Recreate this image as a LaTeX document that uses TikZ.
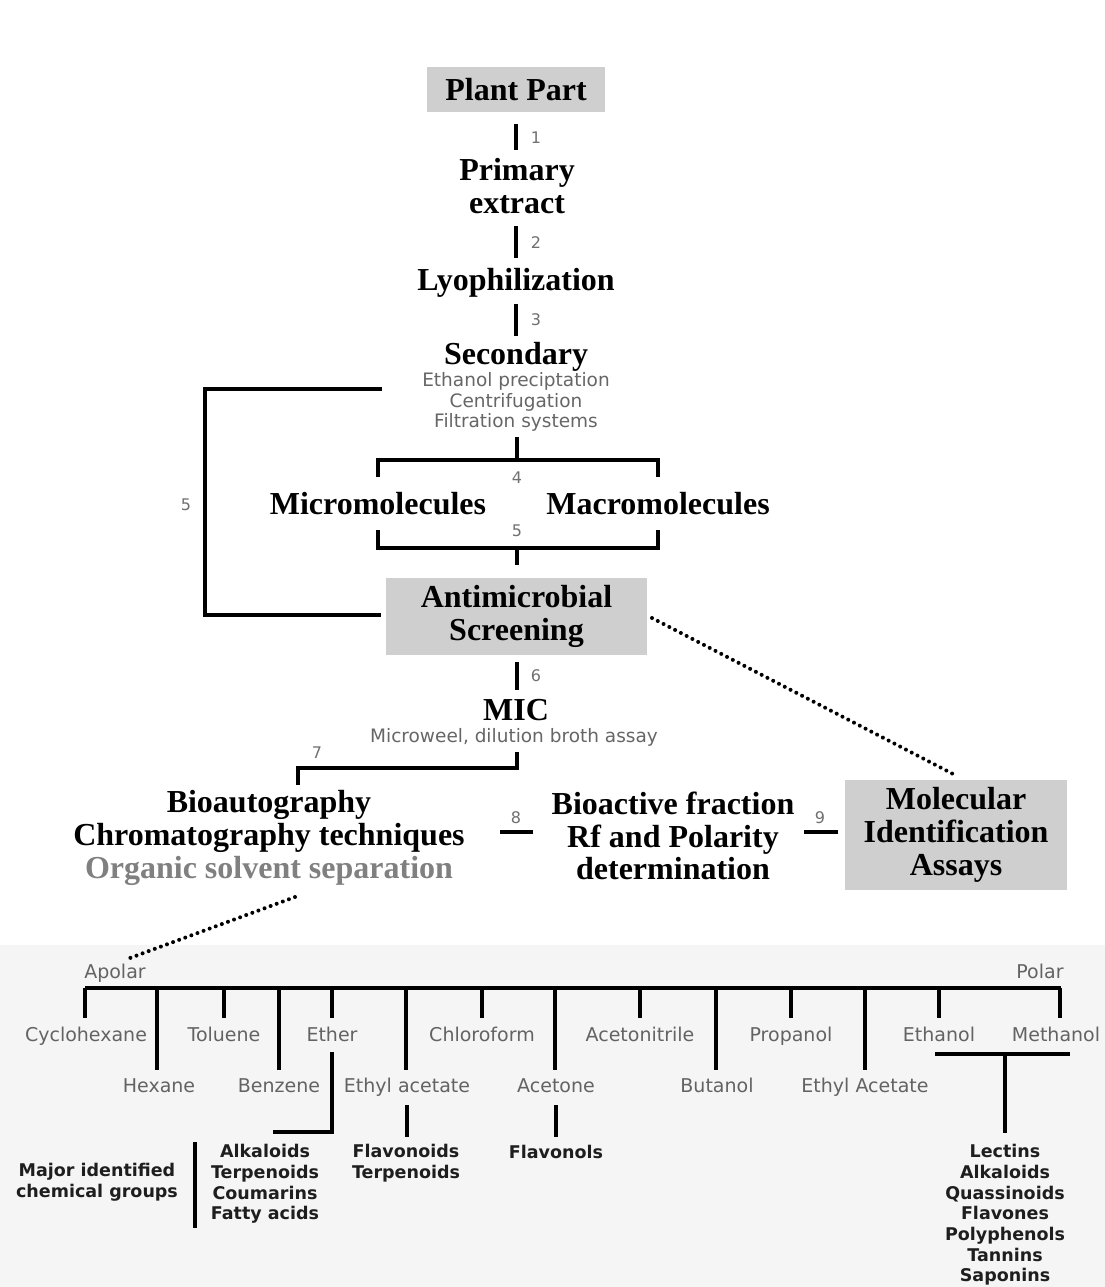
\documentclass[tikz,border=0pt]{standalone}
\usepackage{fontspec}
\setmainfont{Liberation Serif}
\newfontfamily\sansf{DejaVu Sans}
\definecolor{boxgray}{HTML}{CFCFCF}
\definecolor{subgray}{HTML}{666666}
\definecolor{numgray}{HTML}{707070}
\definecolor{orggray}{HTML}{808080}
\definecolor{solvgray}{HTML}{636363}
\definecolor{grpcol}{HTML}{1E1E1E}
\begin{document}
\begin{tikzpicture}[x=1pt,y=-1pt,
  big/.style={font=\fontsize{32}{32.5}\selectfont\bfseries, align=center, inner sep=0pt},
  graybox/.style={big, fill=boxgray},
  sub/.style={font=\sansf\fontsize{18.5}{20.5}\selectfont, text=subgray, align=center, inner sep=0pt},
  num/.style={font=\sansf\fontsize{16}{16}\selectfont, text=numgray, inner sep=0pt},
  solv/.style={font=\sansf\fontsize{19}{19}\selectfont, text=solvgray, inner sep=0pt, text height=14pt, text depth=4pt},
  grp/.style={font=\sansf\bfseries\fontsize{17.5}{20.7}\selectfont, text=grpcol, align=center, inner sep=0pt},
  ln/.style={line width=4pt},
  dotline/.style={line width=4pt, dash pattern=on 0pt off 6.5pt, line cap=round}]
\useasboundingbox (0,0) rectangle (1105,1287);
\fill[white] (0,0) rectangle (1105,1287);
\fill[black!4] (0,945) rectangle (1105,1287);

% ---- main column nodes
\node[graybox, minimum width=178pt, minimum height=45pt] (plant) at (516,90) {Plant Part};
\node[big] (primary) at (517,186) {Primary\\extract};
\node[big] (lyo) at (516,283) {Lyophilization};
\node[big] (sec) at (516,357) {Secondary};
\node[sub] (secsub) at (516,402) {Ethanol preciptation\\Centrifugation\\Filtration systems};
\node[big] (micro) at (378,504) {Micromolecules};
\node[big] (macro) at (658,504) {Macromolecules};
\node[graybox, minimum width=261pt, minimum height=77pt] (anti) at (516.5,616.5) {Antimicrobial\\Screening};
\node[big] (mic) at (516,710) {MIC};
\node[sub] (micsub) at (514,737) {Microweel, dilution broth assay};
\node[big, font=\fontsize{32}{33}\selectfont\bfseries] (bio) at (269,838) {Bioautography\\Chromatography techniques\\\textcolor{orggray}{Organic solvent separation}};
\node[big, font=\fontsize{32}{32.5}\selectfont\bfseries] (bfrac) at (673,836) {Bioactive fraction\\Rf and Polarity\\determination};
\node[graybox, font=\fontsize{32}{33}\selectfont\bfseries, minimum width=222pt, minimum height=110pt] (mol) at (956,835) {Molecular\\Identification\\Assays};

% ---- connector end points
\coordinate (a1) at (516,124); \coordinate (b1) at (516,150);
\coordinate (a2) at (516,226); \coordinate (b2) at (516,258);
\coordinate (a3) at (516,304); \coordinate (b3) at (516,336);
\coordinate (a4) at (517,437); \coordinate (b4) at (517,460);
\coordinate (m4l) at (378,460); \coordinate (m4r) at (658,460);
\coordinate (t4l) at (378,477); \coordinate (t4r) at (658,477);
\coordinate (t5l) at (378,530); \coordinate (t5r) at (658,530);
\coordinate (m5l) at (378,548); \coordinate (m5r) at (658,548);
\coordinate (a5) at (517,548); \coordinate (b5) at (517,565);
\coordinate (l5a) at (382,389); \coordinate (l5b) at (205,389);
\coordinate (l5c) at (205,615); \coordinate (l5d) at (381,615);
\coordinate (a6) at (517,662); \coordinate (b6) at (517,690);
\coordinate (a7) at (517,752); \coordinate (b7) at (517,768);
\coordinate (c7) at (298,768); \coordinate (d7) at (298,785);
\coordinate (a8) at (500,832); \coordinate (b8) at (533,832);
\coordinate (a9) at (804,832); \coordinate (b9) at (838,832);
\coordinate (da) at (652,618); \coordinate (db) at (955,775);
\coordinate (dc) at (295,897); \coordinate (dd) at (130,958);

\draw[ln] (a1) -- (b1);
\draw[ln] (a2) -- (b2);
\draw[ln] (a3) -- (b3);
\draw[ln] (a4) -- (b4);
\draw[ln] (t4l) -- (m4l) -- (m4r) -- (t4r);
\draw[ln] (t5l) -- (m5l) -- (m5r) -- (t5r);
\draw[ln] (a5) -- (b5);
\draw[ln] (l5a) -- (l5b) -- (l5c) -- (l5d);
\draw[ln] (a6) -- (b6);
\draw[ln] (a7) -- (b7) -- (c7) -- (d7);
\draw[ln] (a8) -- (b8);
\draw[ln] (a9) -- (b9);
\draw[dotline] (da) -- (db);
\draw[dotline] (dc) -- (dd);

% ---- step numbers
\node[num] (n1) at (536,138) {1};
\node[num] (n2) at (536,243) {2};
\node[num] (n3) at (536,320) {3};
\node[num] (n4) at (517,478) {4};
\node[num] (n5) at (517,531) {5};
\node[num] (n5b) at (186,505) {5};
\node[num] (n6) at (536,676) {6};
\node[num] (n7) at (317,753) {7};
\node[num] (n8) at (516,818) {8};
\node[num] (n9) at (820,818) {9};

% ---- solvent tree
\node[solv] (apolar) at (115,973) {Apolar};
\node[solv] (polar) at (1040,973) {Polar};
\coordinate (h0) at (85,988); \coordinate (h1) at (1061,988);
\draw[ln] (h0) -- (h1);
\foreach \x/\nm in {85/cyc,224/tol,332/eth,482/chl,640/acn,791/pro,939/etoh,1060/meoh}{
  \coordinate (s\nm) at (\x,988);
  \coordinate (e\nm) at (\x,1018);
  \draw[ln] (s\nm) -- (e\nm);
}
\foreach \x/\nm in {157/hex,279/ben,406/eac,555/ace,716/but,865/eacb}{
  \coordinate (s\nm) at (\x,988);
  \coordinate (e\nm) at (\x,1070);
  \draw[ln] (s\nm) -- (e\nm);
}
\node[solv] (lcyc) at (86,1036) {Cyclohexane};
\node[solv] (ltol) at (224,1036) {Toluene};
\node[solv] (leth) at (332,1036) {Ether};
\node[solv] (lchl) at (482,1036) {Chloroform};
\node[solv] (lacn) at (640,1036) {Acetonitrile};
\node[solv] (lpro) at (791,1036) {Propanol};
\node[solv] (letoh) at (939,1036) {Ethanol};
\node[solv] (lmeoh) at (1056,1036) {Methanol};
\node[solv] (lhex) at (159,1087) {Hexane};
\node[solv] (lben) at (279,1087) {Benzene};
\node[solv] (leac) at (407,1087) {Ethyl acetate};
\node[solv] (lace) at (556,1087) {Acetone};
\node[solv] (lbut) at (717,1087) {Butanol};
\node[solv] (leacb) at (865,1087) {Ethyl Acetate};

% sub branches
\coordinate (ea) at (332,1052); \coordinate (eb) at (332,1132); \coordinate (ec) at (273,1132);
\draw[ln] (ea) -- (eb) -- (ec);
\coordinate (fa) at (407,1105); \coordinate (fb) at (407,1137);
\draw[ln] (fa) -- (fb);
\coordinate (ga) at (556,1105); \coordinate (gb) at (556,1137);
\draw[ln] (ga) -- (gb);
\coordinate (ma) at (935,1054); \coordinate (mb) at (1070,1054);
\coordinate (mc) at (1005,1054); \coordinate (md) at (1005,1133);
\draw[ln] (ma) -- (mb);
\draw[ln] (mc) -- (md);
\coordinate (ka) at (195,1142); \coordinate (kb) at (195,1228);
\draw[ln] (ka) -- (kb);

% chemical groups
\node[grp] (major) at (97,1182) {Major identified\\chemical groups};
\node[grp] (g1) at (265,1184) {Alkaloids\\Terpenoids\\Coumarins\\Fatty acids};
\node[grp] (g2) at (406,1163) {Flavonoids\\Terpenoids};
\node[grp, text height=14pt, text depth=4pt] (g3) at (556,1153) {Flavonols};
\node[grp] (g4) at (1005,1215) {Lectins\\Alkaloids\\Quassinoids\\Flavones\\Polyphenols\\Tannins\\Saponins};
\end{tikzpicture}
\end{document}
